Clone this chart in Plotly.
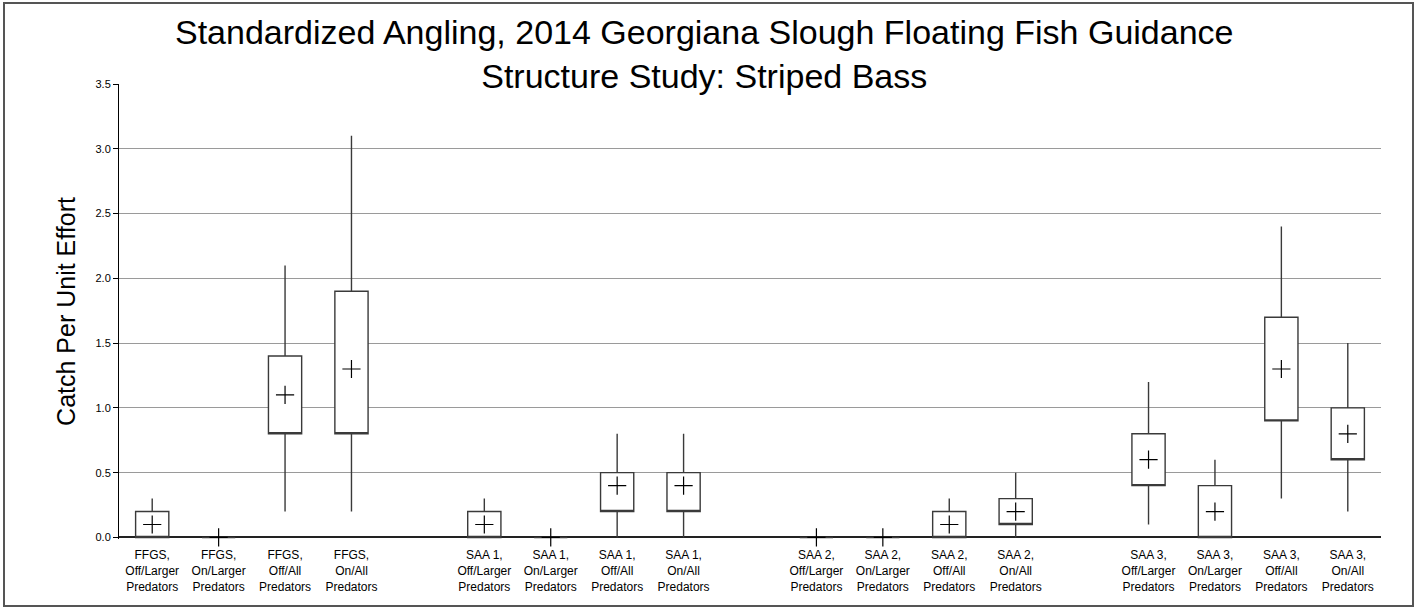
import plotly.graph_objects as go

# ---- data ----
groups = ["FFGS", "SAA 1", "SAA 2", "SAA 3"]
conditions = ["Off/Larger", "On/Larger", "Off/All", "On/All"]

q1 = [0.0, 0.0, 0.8, 0.8, 0.0, 0.0, 0.2, 0.2, 0.0, 0.0, 0.0, 0.1, 0.4, 0.0, 0.9, 0.6]
q3 = [0.2, 0.0, 1.4, 1.9, 0.2, 0.0, 0.5, 0.5, 0.0, 0.0, 0.2, 0.3, 0.8, 0.4, 1.7, 1.0]
lower = [0.0, 0.0, 0.2, 0.2, 0.0, 0.0, 0.0, 0.0, 0.0, 0.0, 0.0, 0.0, 0.1, 0.0, 0.3, 0.2]
upper = [0.3, 0.0, 2.1, 3.1, 0.3, 0.0, 0.8, 0.8, 0.0, 0.0, 0.3, 0.5, 1.2, 0.6, 2.4, 1.5]
means = [0.1, 0.0, 1.1, 1.3, 0.1, 0.0, 0.4, 0.4, 0.0, 0.0, 0.1, 0.2, 0.6, 0.2, 1.3, 0.8]

y_ticks = [0.0, 0.5, 1.0, 1.5, 2.0, 2.5, 3.0, 3.5]

title_text = ("Standardized Angling, 2014 Georgiana Slough Floating Fish Guidance<br>"
              "Structure Study: Striped Bass")
y_title = "Catch Per Unit Effort"

# ---- positions (one blank slot between groups) ----
xpos = []
labels = []
for gi, g in enumerate(groups):
    for ci, c in enumerate(conditions):
        xpos.append(gi * 5 + ci)
        labels.append(f"{g},<br>{c}<br>Predators")

FONT = "Arial, Liberation Sans, sans-serif"
LINE = "#3a3a3a"

fig = go.Figure()

fig.add_trace(go.Box(
    x=xpos,
    q1=q1,
    median=q1,
    q3=q3,
    lowerfence=lower,
    upperfence=upper,
    width=0.5,
    whiskerwidth=0,
    fillcolor="white",
    line=dict(color=LINE, width=1.4),
    boxpoints=False,
    showlegend=False,
    hoverinfo="skip",
))

fig.add_trace(go.Scatter(
    x=xpos,
    y=means,
    mode="markers",
    marker=dict(symbol="cross-thin", size=13, line=dict(color="black", width=1.2)),
    cliponaxis=False,
    showlegend=False,
    hoverinfo="skip",
))

W, H = 1417, 609
L, R, T, B = 119, 36, 84, 70
pw, ph = W - L - R, H - T - B

fig.update_layout(
    width=W, height=H,
    margin=dict(l=L, r=R, t=T, b=B, pad=0),
    paper_bgcolor="white",
    plot_bgcolor="white",
    font=dict(family=FONT, color="black"),
    title=dict(
        text=title_text,
        x=0.497, xref="container", xanchor="center",
        y=1 - 44 / H, yref="container", yanchor="top",
        font=dict(family=FONT, size=34, color="black"),
    ),
    xaxis=dict(
        range=[-0.5, 18.5],
        tickvals=xpos,
        ticktext=labels,
        tickfont=dict(family=FONT, size=12, color="black"),
        showgrid=False,
        zeroline=False,
        showline=False,
        ticks="outside",
        ticklen=5,
        tickcolor="rgba(0,0,0,0)",
    ),
    yaxis=dict(
        range=[-0.012, 3.5],
        tickvals=y_ticks,
        tickformat=".1f",
        tickfont=dict(family=FONT, size=11, color="black"),
        showgrid=True,
        gridcolor="#9a9a9a",
        gridwidth=1,
        zeroline=True,
        zerolinecolor="#222222",
        zerolinewidth=1.5,
        showline=True,
        linecolor="black",
        linewidth=1,
        ticks="outside",
        ticklen=5,
        tickcolor="black",
        title=dict(text=y_title, font=dict(family=FONT, size=25, color="black"), standoff=12),
    ),
    shapes=[dict(
        type="rect", xref="paper", yref="paper",
        x0=(4 - L) / pw, x1=(1413 - L) / pw,
        y0=-(606 - (H - B)) / ph, y1=1 + (T - 3) / ph,
        line=dict(color="#555555", width=2),
        fillcolor="rgba(0,0,0,0)",
        layer="above",
    )],
)

fig.write_html(
    "out.html",
    config={"displayModeBar": False},
    post_script="document.body.style.margin='0';document.body.style.overflow='hidden';",
)
